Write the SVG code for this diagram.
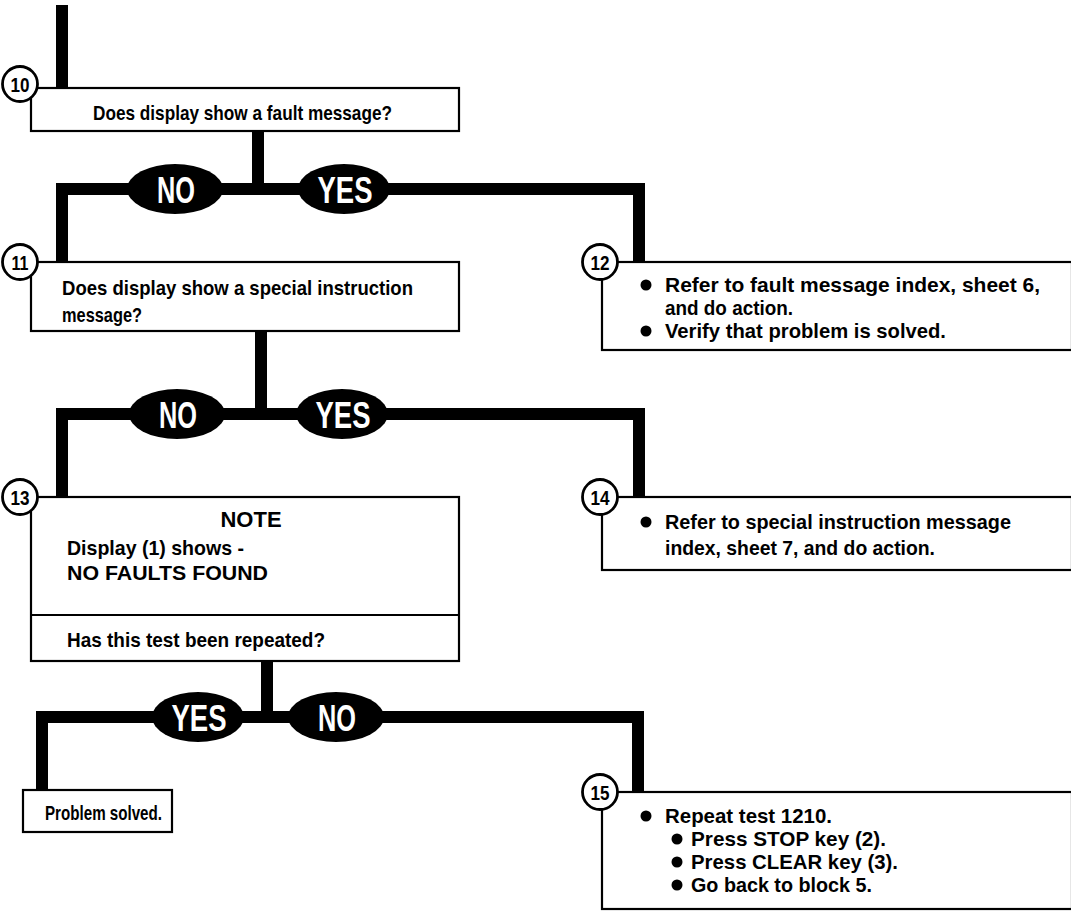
<svg xmlns="http://www.w3.org/2000/svg" width="1071" height="923" viewBox="0 0 1071 923">
<defs>
<style>
.wire{fill:none;stroke:#000;stroke-width:12;stroke-linejoin:miter;stroke-linecap:butt}
.box{fill:#fff;stroke:#000;stroke-width:2.2}
.num{fill:#fff;stroke:#000;stroke-width:2.8}
.t{font-family:"Liberation Sans Narrow","Liberation Sans",Arial,sans-serif;font-weight:bold;font-size:21px;fill:#000}
.n{font-family:"Liberation Sans Narrow","Liberation Sans",Arial,sans-serif;font-weight:bold;font-size:21px;fill:#000;text-anchor:middle}
.note{font-family:"Liberation Sans",Arial,sans-serif;font-weight:bold;font-size:22px;fill:#000;text-anchor:middle}
.lab{font-family:"Liberation Sans Narrow","Liberation Sans",Arial,sans-serif;font-weight:bold;font-size:37px;fill:#fff;text-anchor:middle}
.oval{fill:#000}
.dot{fill:#000}
</style>
</defs>
<rect width="1071" height="923" fill="#fff"/>

<g id="connectors">
<path class="wire" d="M62,5 V92"/>
<path class="wire" d="M258,131 V189 M62,265 V189 H639 V265"/>
<path class="wire" d="M261,331 V414 M62,500 V414 H639 V500"/>
<path class="wire" d="M267,661 V717 M42,792 V717 H638 V795"/>
<ellipse class="oval" cx="175" cy="189" rx="48" ry="25"/>
<text class="lab" x="176" y="203" textLength="38" lengthAdjust="spacingAndGlyphs">NO</text>
<ellipse class="oval" cx="344" cy="189" rx="46" ry="25"/>
<text class="lab" x="345" y="203" textLength="55" lengthAdjust="spacingAndGlyphs">YES</text>
<ellipse class="oval" cx="177" cy="414" rx="48" ry="25"/>
<text class="lab" x="178" y="428" textLength="38" lengthAdjust="spacingAndGlyphs">NO</text>
<ellipse class="oval" cx="342" cy="414" rx="46" ry="25"/>
<text class="lab" x="343" y="428" textLength="55" lengthAdjust="spacingAndGlyphs">YES</text>
<ellipse class="oval" cx="198" cy="717" rx="46" ry="25"/>
<text class="lab" x="199" y="731" textLength="55" lengthAdjust="spacingAndGlyphs">YES</text>
<ellipse class="oval" cx="336" cy="717" rx="48" ry="25"/>
<text class="lab" x="337" y="731" textLength="38" lengthAdjust="spacingAndGlyphs">NO</text>
</g>

<g id="node10">
<rect class="box" x="31" y="88" width="428" height="43"/>
<circle class="num" cx="20" cy="84" r="17.5"/>
<text class="n" x="20" y="92" textLength="19" lengthAdjust="spacingAndGlyphs">10</text>
<text class="t" x="93" y="120" textLength="299" lengthAdjust="spacingAndGlyphs">Does display show a fault message?</text>
</g>

<g id="node11">
<rect class="box" x="31" y="262" width="428" height="69"/>
<circle class="num" cx="20" cy="262" r="17.5"/>
<text class="n" x="20" y="270" textLength="17" lengthAdjust="spacingAndGlyphs">11</text>
<text class="t" x="62" y="295" textLength="351" lengthAdjust="spacingAndGlyphs">Does display show a special instruction</text>
<text class="t" x="62" y="322" textLength="80" lengthAdjust="spacingAndGlyphs">message?</text>
</g>

<g id="node12">
<rect class="box" x="602" y="262" width="470" height="88"/>
<circle class="num" cx="600" cy="262" r="17.5"/>
<text class="n" x="600" y="270" textLength="19" lengthAdjust="spacingAndGlyphs">12</text>
<circle class="dot" cx="646" cy="285" r="5.5"/>
<text class="t" x="665" y="292" textLength="375" lengthAdjust="spacingAndGlyphs">Refer to fault message index, sheet 6,</text>
<text class="t" x="665" y="315" textLength="128" lengthAdjust="spacingAndGlyphs">and do action.</text>
<circle class="dot" cx="646" cy="331" r="5.5"/>
<text class="t" x="665" y="338" textLength="281" lengthAdjust="spacingAndGlyphs">Verify that problem is solved.</text>
</g>

<g id="node13">
<rect class="box" x="31" y="497" width="428" height="164"/>
<line x1="31" y1="615" x2="459" y2="615" stroke="#000" stroke-width="2.2"/>
<circle class="num" cx="20" cy="497" r="17.5"/>
<text class="n" x="20" y="505" textLength="19" lengthAdjust="spacingAndGlyphs">13</text>
<text class="note" x="251" y="527">NOTE</text>
<text class="t" x="67" y="555" textLength="177" lengthAdjust="spacingAndGlyphs">Display (1) shows -</text>
<text class="t" x="67" y="580" textLength="201" lengthAdjust="spacingAndGlyphs">NO FAULTS FOUND</text>
<text class="t" x="67" y="647" textLength="258" lengthAdjust="spacingAndGlyphs">Has this test been repeated?</text>
</g>

<g id="node14">
<rect class="box" x="602" y="497" width="470" height="73"/>
<circle class="num" cx="600" cy="497" r="17.5"/>
<text class="n" x="600" y="505" textLength="19" lengthAdjust="spacingAndGlyphs">14</text>
<circle class="dot" cx="646" cy="522" r="5.5"/>
<text class="t" x="665" y="529" textLength="346" lengthAdjust="spacingAndGlyphs">Refer to special instruction message</text>
<text class="t" x="665" y="555" textLength="270" lengthAdjust="spacingAndGlyphs">index, sheet 7, and do action.</text>
</g>

<g id="nodeSolved">
<rect class="box" x="23" y="790" width="149" height="42"/>
<text class="t" x="45" y="820" textLength="117" lengthAdjust="spacingAndGlyphs">Problem solved.</text>
</g>

<g id="node15">
<rect class="box" x="602" y="792" width="470" height="117"/>
<circle class="num" cx="600" cy="792" r="17.5"/>
<text class="n" x="600" y="800" textLength="19" lengthAdjust="spacingAndGlyphs">15</text>
<circle class="dot" cx="646" cy="816" r="5.5"/>
<text class="t" x="665" y="823" textLength="167" lengthAdjust="spacingAndGlyphs">Repeat test 1210.</text>
<circle class="dot" cx="677" cy="839" r="5.5"/>
<text class="t" x="691" y="846" textLength="195" lengthAdjust="spacingAndGlyphs">Press STOP key (2).</text>
<circle class="dot" cx="677" cy="862" r="5.5"/>
<text class="t" x="691" y="869" textLength="207" lengthAdjust="spacingAndGlyphs">Press CLEAR key (3).</text>
<circle class="dot" cx="677" cy="885" r="5.5"/>
<text class="t" x="691" y="892" textLength="181" lengthAdjust="spacingAndGlyphs">Go back to block 5.</text>
</g>
</svg>
